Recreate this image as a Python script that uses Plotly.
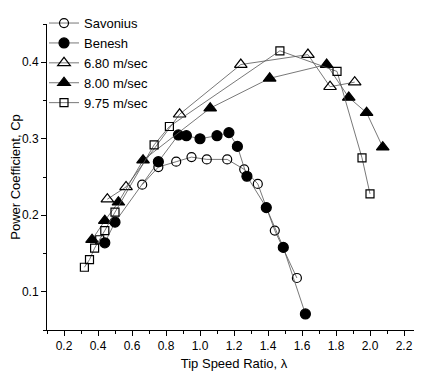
import plotly.graph_objects as go

sav_x = [0.66, 0.755, 0.86, 0.95, 1.04, 1.16, 1.26, 1.34, 1.44, 1.57]
sav_y = [0.240, 0.263, 0.270, 0.276, 0.273, 0.273, 0.260, 0.241, 0.180, 0.118]
ben_x = [0.44, 0.50, 0.755, 0.873, 0.92, 1.0, 1.10, 1.17, 1.22, 1.276, 1.39, 1.49, 1.62]
ben_y = [0.164, 0.191, 0.270, 0.305, 0.304, 0.300, 0.304, 0.308, 0.290, 0.251, 0.210, 0.158, 0.071]
v680_x = [0.455, 0.565, 0.88, 1.24, 1.635, 1.765, 1.91]
v680_y = [0.221, 0.237, 0.332, 0.397, 0.410, 0.368, 0.374]
v800_x = [0.365, 0.44, 0.52, 0.665, 1.06, 1.41, 1.745, 1.875, 1.98, 2.075]
v800_y = [0.168, 0.193, 0.217, 0.272, 0.340, 0.379, 0.397, 0.354, 0.334, 0.289]
v975_x = [0.32, 0.35, 0.38, 0.41, 0.44, 0.50, 0.73, 0.82, 1.47, 1.806, 1.953, 2.0]
v975_y = [0.132, 0.142, 0.157, 0.168, 0.180, 0.204, 0.292, 0.316, 0.415, 0.388, 0.275, 0.228]

series = [
    ("Savonius", sav_x, sav_y, "circle-open", 9),
    ("Benesh", ben_x, ben_y, "circle", 10),
    ("6.80 m/sec", v680_x, v680_y, "triangle-up-open", 11),
    ("8.00 m/sec", v800_x, v800_y, "triangle-up", 11),
    ("9.75 m/sec", v975_x, v975_y, "square-open", 8),
]

fig = go.Figure()
for name, xs, ys, sym, sz in series:
    fig.add_trace(go.Scatter(
        x=xs, y=ys, mode="lines+markers", name=name,
        line=dict(color="#555555", width=0.8),
        marker=dict(symbol=sym, size=sz, color="black",
                    line=dict(color="black", width=1.2)),
    ))

# page has an 8px body margin: figure is sized so the plot area lands where the reference has it
fig.update_layout(
    width=414, height=368,
    margin=dict(l=39, r=1, t=16, b=46, autoexpand=False),
    paper_bgcolor="white", plot_bgcolor="white",
    font=dict(family="Liberation Sans, Arial", size=12, color="black"),
    showlegend=True,
    legend=dict(x=-0.008, y=1.052, xanchor="left", yanchor="top",
                bgcolor="rgba(0,0,0,0)", font=dict(size=13),
                tracegroupgap=0, itemwidth=30),
    xaxis=dict(range=[0.1, 2.3], tickvals=[0.2,0.4,0.6,0.8,1.0,1.2,1.4,1.6,1.8,2.0,2.2],
               ticktext=["0.2","0.4","0.6","0.8","1.0","1.2","1.4","1.6","1.8","2.0","2.2"],
               ticks="outside", ticklen=5, tickwidth=1, tickcolor="black",
               minor=dict(dtick=0.1, tick0=0.1, ticks="outside", ticklen=3, tickcolor="black"),
               showline=True, linecolor="black", linewidth=1, showgrid=False, zeroline=False,
               title=dict(text="Tip Speed Ratio, λ", font=dict(size=13), standoff=6)),
    yaxis=dict(range=[0.05, 0.45], tickvals=[0.1, 0.2, 0.3, 0.4],
               ticktext=["0.1","0.2","0.3","0.4"],
               ticks="outside", ticklen=5, tickwidth=1, tickcolor="black",
               minor=dict(dtick=0.05, tick0=0.05, ticks="outside", ticklen=3, tickcolor="black"),
               showline=True, linecolor="black", linewidth=1, showgrid=False, zeroline=False,
               title=dict(text="Power Coefficient, Cp", font=dict(size=13), standoff=4)),
)

fig.write_html("out.html")
